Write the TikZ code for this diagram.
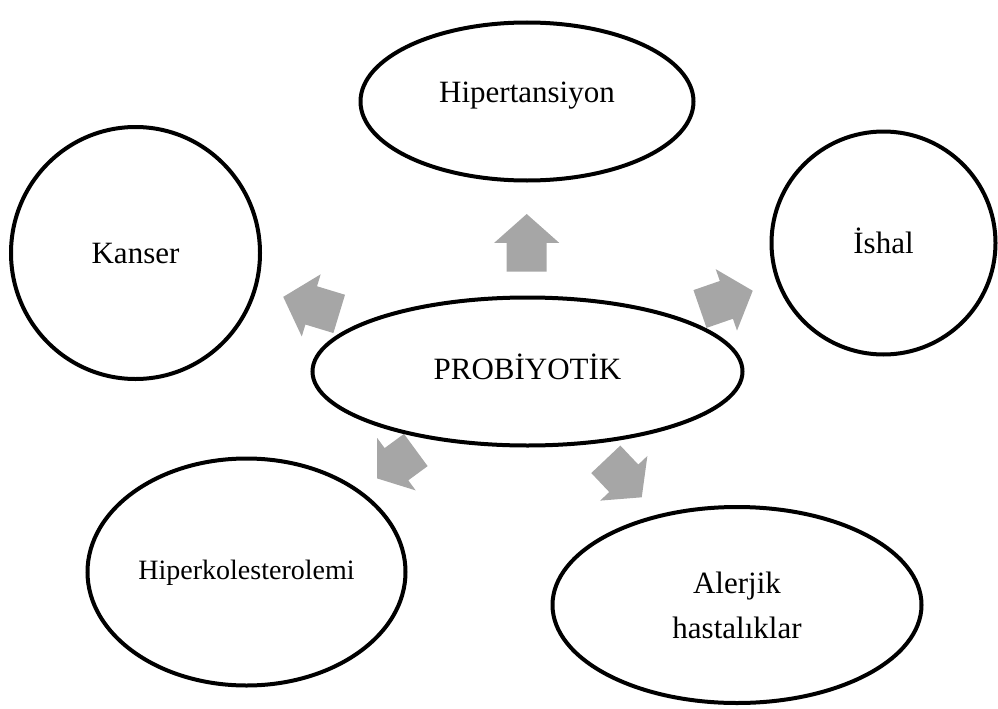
\documentclass[tikz,border=0pt]{standalone}
\usepackage{fontspec}
\setmainfont{Liberation Serif}
\usetikzlibrary{shapes.geometric}
\definecolor{arrowgray}{RGB}{166,166,166}
\newcommand\myblockarrow[4]{%
  \fill[arrowgray,shift={(#1,#2)},rotate=#3]
    (0,-20) -- ({#4/2},-20) -- ({#4/2},-32.5) -- (#4,0) -- ({#4/2},32.5) -- ({#4/2},20) -- (0,20) -- cycle;}
\begin{document}
\begin{tikzpicture}[x=1pt,y=-1pt,
  ell/.style={ellipse, draw, line width=4pt, fill=white, inner sep=0pt,
    font=\fontsize{31}{45}\selectfont}]
\path[use as bounding box] (0,0) rectangle (998,709);
% block arrows (drawn first, under the ellipses)
\myblockarrow{526.7}{271.7}{90}{57.7}
\myblockarrow{339.2}{313.9}{163.1}{58.5}
\myblockarrow{700}{309}{19.1}{55.8}
\myblockarrow{415.8}{450}{216.3}{48}
\myblockarrow{605.8}{459.3}{-46.6}{52.3}
% ellipses
\node[ell, minimum width=430pt, minimum height=148pt, text height=22pt, text depth=6.4pt] (prob) at (527.5,371.5) {PROBİYOTİK};
\node[ell, minimum width=333pt, minimum height=158pt, text height=16pt, text depth=13.6pt] (hip) at (527,101.5) {Hipertansiyon};
\node[ell, minimum width=249pt, minimum height=252pt, text height=26pt, text depth=5.4pt] (kanser) at (135.5,253) {Kanser};
\node[ell, minimum width=224pt, minimum height=223pt, text height=26pt, text depth=6pt] (ishal) at (883.5,243) {İshal};
\node[ell, minimum width=318pt, minimum height=227pt, text height=20pt, text depth=6pt, font=\fontsize{28}{40}\selectfont] (hiperk) at (246.5,572) {Hiperkolesterolemi};
\node[ell, minimum width=369pt, minimum height=196pt, align=center] (alerjik) at (737,605) {Alerjik\\hastalıklar};
\end{tikzpicture}
\end{document}
